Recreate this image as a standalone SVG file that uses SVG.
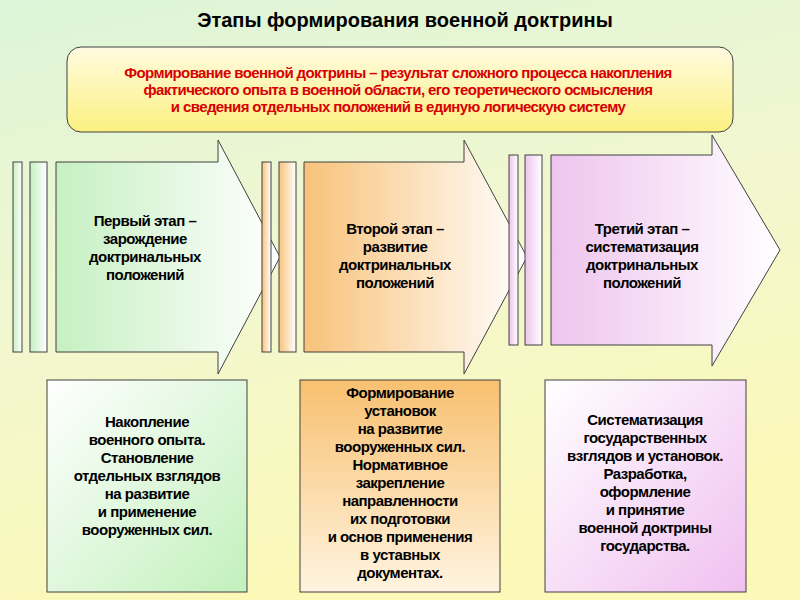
<svg xmlns="http://www.w3.org/2000/svg" width="800" height="600" viewBox="0 0 800 600">
<defs>
<linearGradient id="bg" x1="0" y1="0" x2="0.3" y2="1"><stop offset="0" stop-color="#dcf5d8"/><stop offset="0.5" stop-color="#f2f7d0"/><stop offset="1" stop-color="#fbf8b8"/></linearGradient>
<linearGradient id="top" x1="0" y1="0" x2="0" y2="1"><stop offset="0" stop-color="#fffbe0"/><stop offset="1" stop-color="#fbf080"/></linearGradient>
<linearGradient id="g1" x1="0" y1="0" x2="1" y2="0"><stop offset="0" stop-color="#c6f0c2"/><stop offset="1" stop-color="#ffffff"/></linearGradient>
<linearGradient id="g2" x1="0" y1="0" x2="1" y2="0"><stop offset="0" stop-color="#f8c27a"/><stop offset="1" stop-color="#ffffff"/></linearGradient>
<linearGradient id="g3" x1="0" y1="0" x2="1" y2="0"><stop offset="0" stop-color="#eec4ee"/><stop offset="1" stop-color="#ffffff"/></linearGradient>
<linearGradient id="b1" x1="0" y1="0" x2="1" y2="1"><stop offset="0" stop-color="#ffffff"/><stop offset="1" stop-color="#c2f0bc"/></linearGradient>
<linearGradient id="b2" x1="0" y1="0" x2="0" y2="1"><stop offset="0" stop-color="#f8c070"/><stop offset="1" stop-color="#fff4e0"/></linearGradient>
<linearGradient id="b3" x1="0" y1="0" x2="1" y2="1"><stop offset="0" stop-color="#ffffff"/><stop offset="1" stop-color="#f0c0f0"/></linearGradient>
</defs>
<style>
.s{stroke:#404040;stroke-width:1}
.t{font-family:"Liberation Sans",Arial,sans-serif;font-weight:bold;font-size:15px;letter-spacing:-0.5px;text-anchor:middle;fill:#000}
.r{font-family:"Liberation Sans",Arial,sans-serif;font-weight:bold;font-size:15px;letter-spacing:-0.6px;text-anchor:middle;fill:#d80000}
</style>
<rect width="800" height="600" fill="url(#bg)"/>
<text x="405" y="27" class="t" style="font-size:20px;letter-spacing:0">Этапы формирования военной доктрины</text>
<g id="top-box">
<rect x="67" y="47" width="666" height="85" rx="14" fill="url(#top)" class="s"/>
<text class="r"><tspan x="398" y="78">Формирование военной доктрины – результат сложного процесса накопления</tspan><tspan x="398" y="95">фактического опыта в военной области, его теоретического осмысления</tspan><tspan x="398" y="112">и сведения отдельных положений в единую логическую систему</tspan></text>
</g>
<g id="stage1">
<rect x="13" y="162" width="9" height="190" fill="url(#g1)" class="s"/>
<rect x="30" y="162" width="17" height="190" fill="url(#g1)" class="s"/>
<path d="M56 162H218V140L280 257L218 374V352H56Z" fill="url(#g1)" class="s"/>
<text class="t"><tspan x="145" y="226">Первый этап –</tspan><tspan x="145" y="244">зарождение</tspan><tspan x="145" y="262">доктринальных</tspan><tspan x="145" y="280">положений</tspan></text>
</g>
<g id="stage2">
<rect x="262" y="162" width="9" height="190" fill="url(#g2)" class="s"/>
<rect x="279" y="162" width="17" height="190" fill="url(#g2)" class="s"/>
<path d="M304 162H464V140L527 257L464 374V352H304Z" fill="url(#g2)" class="s"/>
<text class="t"><tspan x="395" y="234">Второй этап –</tspan><tspan x="395" y="252">развитие</tspan><tspan x="395" y="270">доктринальных</tspan><tspan x="395" y="288">положений</tspan></text>
</g>
<g id="stage3">
<rect x="509" y="155" width="9" height="190" fill="url(#g3)" class="s"/>
<rect x="525" y="155" width="17" height="190" fill="url(#g3)" class="s"/>
<path d="M551 155H712V135L780 250L712 366V345H551Z" fill="url(#g3)" class="s"/>
<text class="t"><tspan x="642" y="234">Третий этап –</tspan><tspan x="642" y="252">систематизация</tspan><tspan x="642" y="270">доктринальных</tspan><tspan x="642" y="288">положений</tspan></text>
</g>
<g id="box1">
<rect x="47" y="380" width="200" height="212" fill="url(#b1)" class="s"/>
<text class="t"><tspan x="147" y="427">Накопление</tspan><tspan x="147" y="445">военного опыта.</tspan><tspan x="147" y="463">Становление</tspan><tspan x="147" y="481">отдельных взглядов</tspan><tspan x="147" y="499">на развитие</tspan><tspan x="147" y="517">и применение</tspan><tspan x="147" y="535">вооруженных сил.</tspan></text>
</g>
<g id="box2">
<rect x="300" y="380" width="200" height="212" fill="url(#b2)" class="s"/>
<text class="t"><tspan x="400" y="398">Формирование</tspan><tspan x="400" y="416">установок</tspan><tspan x="400" y="434">на развитие</tspan><tspan x="400" y="452">вооруженных сил.</tspan><tspan x="400" y="470">Нормативное</tspan><tspan x="400" y="488">закрепление</tspan><tspan x="400" y="506">направленности</tspan><tspan x="400" y="524">их подготовки</tspan><tspan x="400" y="542">и основ применения</tspan><tspan x="400" y="560">в уставных</tspan><tspan x="400" y="578">документах.</tspan></text>
</g>
<g id="box3">
<rect x="545" y="380" width="201" height="212" fill="url(#b3)" class="s"/>
<text class="t"><tspan x="645" y="425">Систематизация</tspan><tspan x="645" y="443">государственных</tspan><tspan x="645" y="461">взглядов и установок.</tspan><tspan x="645" y="479">Разработка,</tspan><tspan x="645" y="497">оформление</tspan><tspan x="645" y="515">и принятие</tspan><tspan x="645" y="533">военной доктрины</tspan><tspan x="645" y="551">государства.</tspan></text>
</g>
<g id="connectors"></g>
</svg>
